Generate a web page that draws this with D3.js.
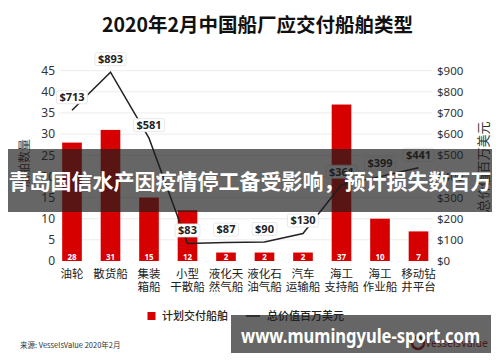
<!DOCTYPE html>
<html><head><meta charset="utf-8">
<script src="https://cdn.jsdelivr.net/npm/d3@7"></script>
<style>
html,body{margin:0;padding:0;background:#fff;}
svg{display:block;}
</style></head>
<body>
<svg id="chart" width="500" height="362"></svg>
<script>
const categories = [["油轮"],["散货船"],["集装","箱船"],["小型","干散船"],["液化天","然气船"],["液化石","油气船"],["汽车","运输船"],["海工","支持船"],["海工","作业船"],["移动钻","井平台"]];
const shipCounts = [28,31,15,12,2,2,2,37,10,7];
const totalValues = [713,893,581,83,87,90,130,361,399,441];
const leftTicks = [0,5,10,15,20,25,30,35,40,45];
const rightTicks = [0,100,200,300,400,500,600,700,800,900];
const title = "2020年2月中国船厂应交付船舶类型";
const legendLabels = ["计划交付船舶","总价值百万美元"];
const source = "来源: VesselsValue 2020年2月";
const bannerText = "青岛国信水产因疫情停工备受影响，预计损失数百万";
const siteText = "www.mumingyule-sport.com";

const CJK = "'Noto Sans CJK SC','Noto Sans',sans-serif";
const LAT = "'Noto Sans','DejaVu Sans',sans-serif";
const svg = d3.select("#chart");
const keys = categories.map(c => c.join(""));

const x = d3.scaleBand().domain(keys).range([52.75, 437.75]).paddingInner(0.49).paddingOuter(0.245);
const yL = d3.scaleLinear().domain([0,45]).range([261, 70.7]);
const yR = d3.scaleLinear().domain([0,900]).range([261, 70.7]);

// title
svg.append("text").attr("x",257.5).attr("y",32).attr("text-anchor","middle")
  .attr("font-family",CJK).attr("font-weight","bold").attr("font-size",19.5).attr("fill","#111").text(title);

// gridlines
svg.append("g").selectAll("line").data(leftTicks.filter(d=>d>0)).join("line")
  .attr("x1",60).attr("x2",432).attr("y1",d=>yL(d)).attr("y2",d=>yL(d))
  .attr("stroke","#ececec").attr("stroke-width",1);

// left axis
const gL = svg.append("g").attr("transform","translate(55,0)")
  .call(d3.axisLeft(yL).tickValues(leftTicks).tickSize(0).tickPadding(0));
gL.select(".domain").remove();
gL.selectAll("text").attr("font-family",LAT).attr("font-size",12).attr("fill","#333");

// right axis
const gR = svg.append("g").attr("transform","translate(437,0)")
  .call(d3.axisRight(yR).tickValues(rightTicks).tickSize(0).tickPadding(0).tickFormat(d=>"$"+d));
gR.select(".domain").remove();
gR.selectAll("text").attr("font-family",LAT).attr("font-size",11.5).attr("fill","#333");

// axis titles
svg.append("text").attr("transform","translate(29,163) rotate(-90)").attr("text-anchor","middle")
  .attr("font-family",CJK).attr("font-size",12).attr("fill","#333").text("船舶数量");
svg.append("text").attr("transform","translate(488,167) rotate(-90)").attr("text-anchor","middle")
  .attr("font-family",CJK).attr("font-size",13).attr("fill","#333").text("总价值百万美元");

// bars
svg.append("g").selectAll("rect").data(shipCounts).join("rect")
  .attr("x",(d,i)=>x(keys[i])).attr("width",x.bandwidth())
  .attr("y",d=>yL(d)).attr("height",d=>yL(0)-yL(d)).attr("fill","#d60000");
svg.append("g").selectAll("text").data(shipCounts).join("text")
  .attr("x",(d,i)=>x(keys[i])+x.bandwidth()/2).attr("y",yL(0)-1.5)
  .attr("text-anchor","middle").attr("font-family",LAT).attr("font-weight","bold")
  .attr("font-size",8).attr("fill","#fff").text(d=>d);

// category labels
const cat = svg.append("g").selectAll("text").data(categories).join("text")
  .attr("x",(d,i)=>x(keys[i])+x.bandwidth()/2).attr("y",278)
  .attr("text-anchor","middle").attr("font-family",CJK).attr("font-size",11.5).attr("fill","#222");
cat.selectAll("tspan").data(d=>d).join("tspan")
  .attr("x",function(){return this.parentNode.getAttribute("x");})
  .attr("dy",(d,i)=>i===0?0:12.5).text(d=>d);

// line
const cx = i => x(keys[i]) + x.bandwidth()/2;
const line = d3.line().x((d,i)=>cx(i)).y(d=>yR(d));
svg.append("path").datum(totalValues).attr("d",line).attr("fill","none")
  .attr("stroke","#222").attr("stroke-width",1.5);

// value labels
const lab = svg.append("g").selectAll("g").data(totalValues).join("g")
  .attr("transform",(d,i)=>`translate(${cx(i)},${yR(d)-13})`);
lab.each(function(d){
  const g = d3.select(this);
  const r = g.append("rect");
  const t = g.append("text").attr("text-anchor","middle").attr("dy","0.35em")
    .attr("font-family",LAT).attr("font-weight","bold").attr("font-size",11).attr("fill","#222").text("$"+d);
  const w = t.node().getComputedTextLength()+6;
  r.attr("x",-w/2).attr("y",-6.5).attr("width",w).attr("height",13).attr("rx",2)
    .attr("fill","#fff").attr("stroke","#e2e2e2").attr("stroke-width",0.8);
});

// legend
svg.append("rect").attr("x",147.5).attr("y",312).attr("width",8).attr("height",8).attr("fill","#d60000");
svg.append("text").attr("x",162).attr("y",320).attr("font-family",CJK).attr("font-weight","500").attr("font-size",11).attr("fill","#222").text(legendLabels[0]);
svg.append("line").attr("x1",246).attr("x2",260).attr("y1",316).attr("y2",316).attr("stroke","#222").attr("stroke-width",1.5);
svg.append("text").attr("x",267).attr("y",320).attr("font-family",CJK).attr("font-weight","500").attr("font-size",11).attr("fill","#222").text(legendLabels[1]);

// source
svg.append("text").attr("x",20).attr("y",348).attr("font-family",CJK).attr("font-size",7.5).attr("fill","#333").text(source);

// VesselsValue logo (behind watermark)
svg.append("circle").attr("cx",418).attr("cy",343).attr("r",6).attr("fill","none").attr("stroke","#a01020").attr("stroke-width",2.5);
svg.append("text").attr("x",425).attr("y",347).attr("font-family",LAT).attr("font-size",10.5).attr("fill","#a01020").text("VesselsValue");

// overlay banner
svg.append("rect").attr("x",8).attr("y",149).attr("width",484).attr("height",63).attr("fill","rgba(30,30,30,0.68)");
svg.append("text").attr("x",250).attr("y",189).attr("text-anchor","middle")
  .attr("font-family",CJK).attr("font-weight","bold").attr("font-size",21).attr("fill","#fff").text(bannerText);

// site banner
svg.append("rect").attr("x",231).attr("y",315).attr("width",260).attr("height",38).attr("fill","rgba(30,30,30,0.68)");
svg.append("text").attr("x",241).attr("y",343).attr("textLength",239).attr("lengthAdjust","spacingAndGlyphs")
  .attr("font-family",LAT).attr("font-weight","bold").attr("font-size",19).attr("fill","#fff").text(siteText);
</script>
</body></html>
